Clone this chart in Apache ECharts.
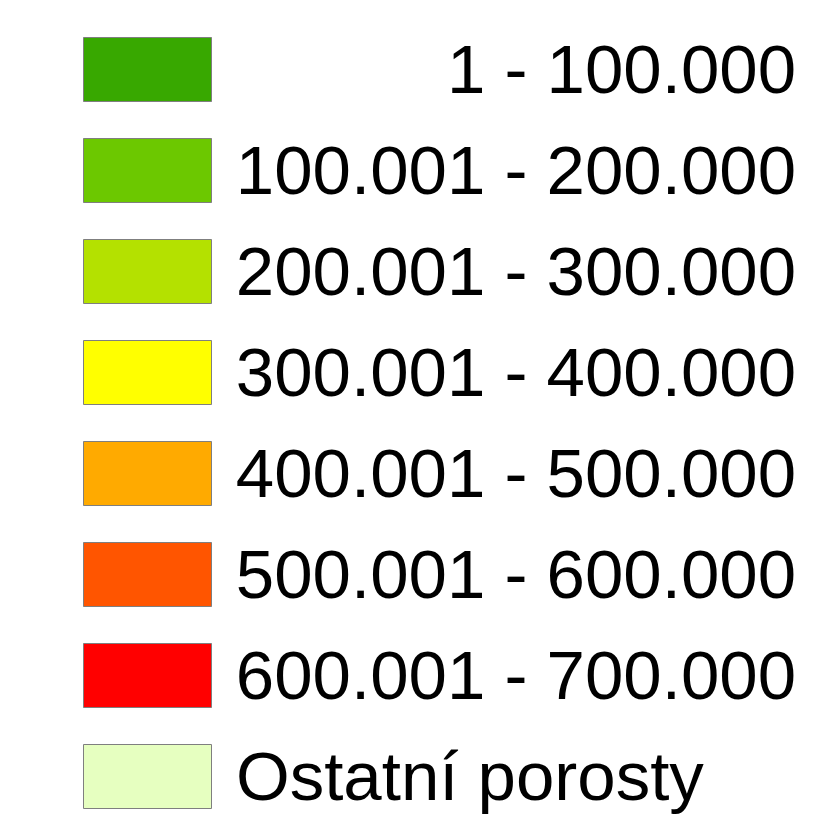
<!DOCTYPE html>
<html><head><meta charset="utf-8">
<script src="https://cdn.jsdelivr.net/npm/echarts@6/dist/echarts.min.js"></script>
<style>html,body{margin:0;padding:0;background:#fff}#c{width:827px;height:819px}</style>
</head><body><div id="c"></div>
<script>
const labels = ['1 - 100.000','100.001 - 200.000','200.001 - 300.000','300.001 - 400.000','400.001 - 500.000','500.001 - 600.000','600.001 - 700.000','Ostatní porosty'];
const colors = ['#38a800','#6cc800','#b4e100','#ffff00','#ffaa00','#ff5500','#ff0000','#e6ffc0'];
const align = ['right','right','right','right','right','right','right','left'];

const chart = echarts.init(document.getElementById('c'), null, {renderer:'canvas'});
const els = [];
const top0 = 37, step = 101, bw = 128, bh = 64, bx = 83;
labels.forEach((t,i)=>{
  const y = top0 + i*step;
  els.push({type:'rect', shape:{x:bx+0.5,y:y+0.5,width:bw,height:bh},
    style:{fill:colors[i], stroke:'#7f7f7f', lineWidth:1}});
  els.push({type:'text', x: align[i]==='right'?796:236, y: y+bh/2+5,
    style:{text:t, fill:'#000', font:'69px "Liberation Sans", Arial, sans-serif',
      align:align[i], verticalAlign:'middle'}});
});
chart.setOption({backgroundColor:'#fff', animation:false, graphic:{elements:els}});
</script></body></html>
